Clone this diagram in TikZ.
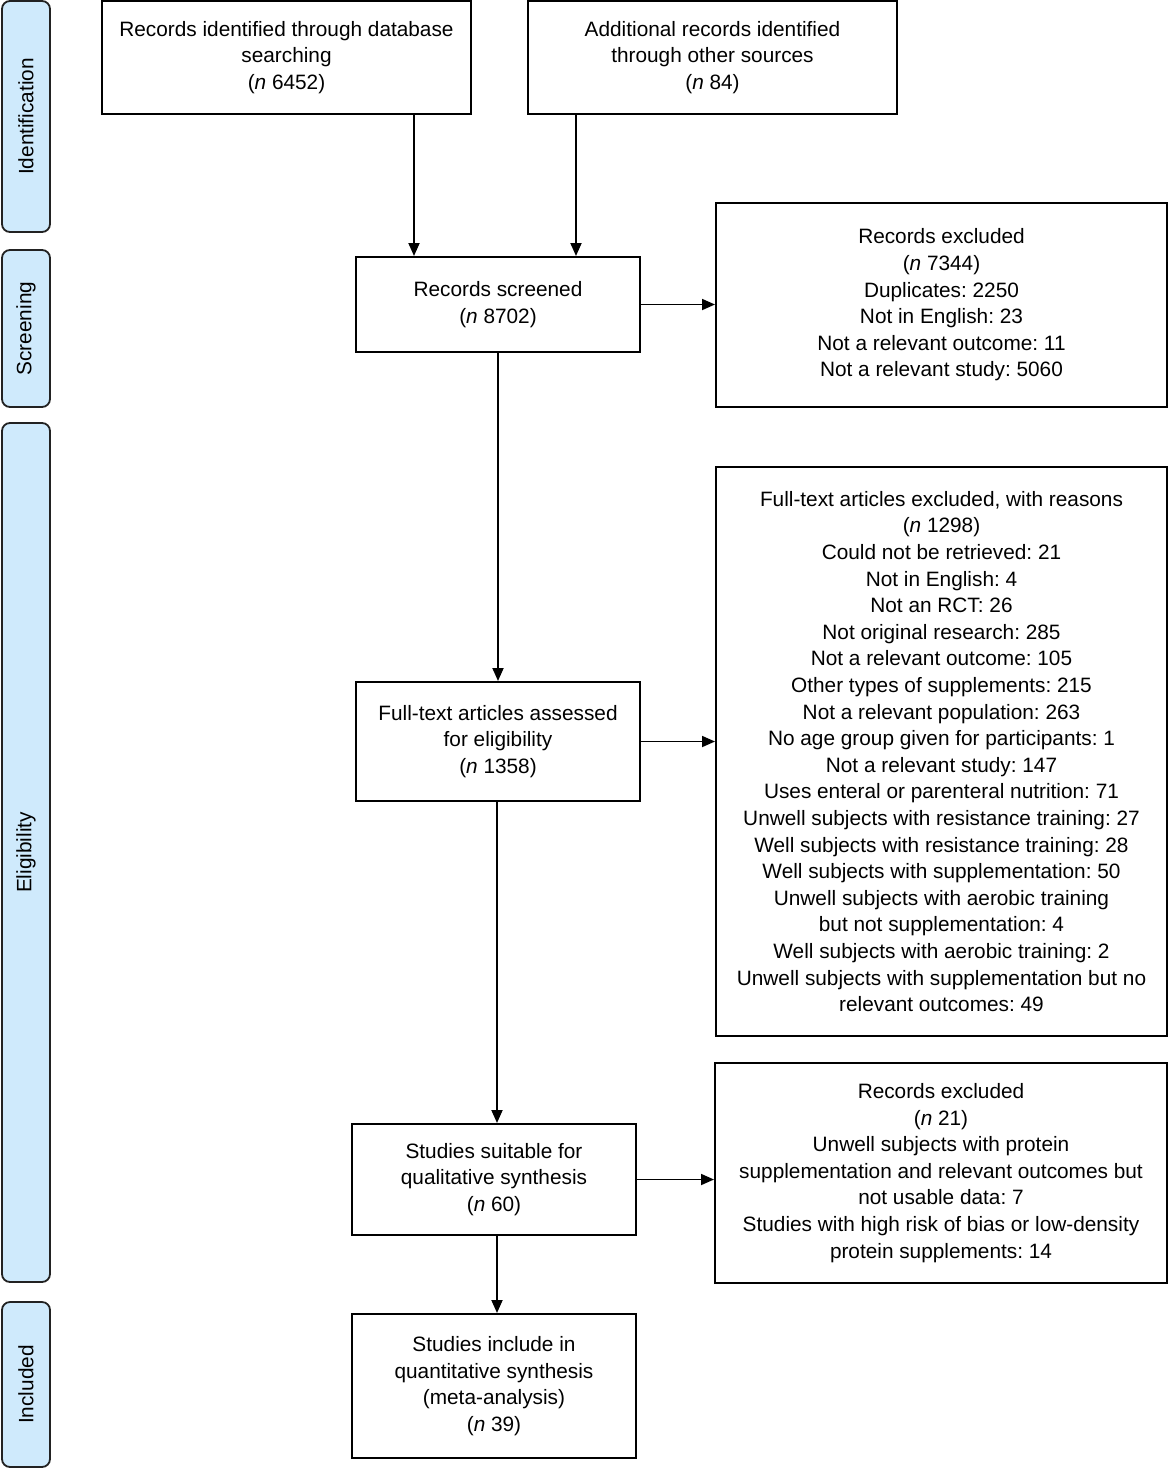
\documentclass[tikz,border=0pt]{standalone}
\usepackage{fontspec}
\setmainfont{Liberation Sans}
\usetikzlibrary{arrows.meta,calc}
\frenchspacing
\definecolor{stagefill}{HTML}{CFEAFC}
\definecolor{stageline}{HTML}{222222}
\tikzset{
  box/.style={draw, line width=1pt, align=center, inner sep=0pt,
    font=\fontsize{10.4}{13.3}\selectfont\frenchspacing},
  stage/.style={draw=stageline, fill=stagefill, line width=0.9pt, rounded corners=4pt,
    inner sep=0pt},
  stagetext/.style={rotate=90, font=\fontsize{10.4}{13.3}\selectfont},
  arr/.style={line width=0.9pt, -{Triangle[length=6.5pt,width=5.5pt]}},
}
\begin{document}
\begin{tikzpicture}[x=0.5pt,y=-0.5pt]
\useasboundingbox (0,0) rectangle (1168,1469);
% stage labels
\node[stage, minimum width=24pt, minimum height=115.5pt] (s1) at (26,116.5) {};
\node[stagetext] (s1t) at (s1.center) {Identification};
\node[stage, minimum width=24pt, minimum height=78.5pt] (s2) at (26,328.5) {};
\node[stagetext] (s2t) at (s2.center) {Screening};
\node[stage, minimum width=24pt, minimum height=429.5pt] (s3) at (26,852.5) {};
\node[stagetext] (s3t) at (s3.center) {Eligibility};
\node[stage, minimum width=24pt, minimum height=82.5pt] (s4) at (26,1384.5) {};
\node[stagetext] (s4t) at (s4.center) {Included};
% boxes
\node[box, minimum width=184.5pt, minimum height=56.5pt] (a) at (286.5,57.5)
  {Records identified through database\\searching\\(\textit{n} 6452)};
\node[box, minimum width=184.5pt, minimum height=56.5pt] (b) at (712.5,57.5)
  {Additional records identified\\through other sources\\(\textit{n} 84)};
\node[box, minimum width=142pt, minimum height=47.5pt] (scr) at (498,304.5)
  {Records screened\\(\textit{n} 8702)};
\node[box, minimum width=225.5pt, minimum height=102pt] (ex1) at (941.5,305)
  {Records excluded\\(\textit{n} 7344)\\Duplicates: 2250\\Not in English: 23\\Not a relevant outcome: 11\\Not a relevant study: 5060};
\node[box, minimum width=142pt, minimum height=59.5pt] (ft) at (498,741.5)
  {Full-text articles assessed\\for eligibility\\(\textit{n} 1358)};
\node[box, minimum width=225.5pt, minimum height=284.5pt] (ex2) at (941.5,751.5)
  {Full-text articles excluded, with reasons\\(\textit{n} 1298)\\Could not be retrieved: 21\\Not in English: 4\\Not an RCT: 26\\Not original research: 285\\Not a relevant outcome: 105\\Other types of supplements: 215\\Not a relevant population: 263\\No age group given for participants: 1\\Not a relevant study: 147\\Uses enteral or parenteral nutrition: 71\\Unwell subjects with resistance training: 27\\Well subjects with resistance training: 28\\Well subjects with supplementation: 50\\Unwell subjects with aerobic training\\but not supplementation: 4\\Well subjects with aerobic training: 2\\Unwell subjects with supplementation but no\\relevant outcomes: 49};
\node[box, minimum width=142pt, minimum height=55.5pt] (su) at (494,1179.5)
  {Studies suitable for\\qualitative synthesis\\(\textit{n} 60)};
\node[box, minimum width=226pt, minimum height=110pt] (ex3) at (941,1173)
  {Records excluded\\(\textit{n} 21)\\Unwell subjects with protein\\supplementation and relevant outcomes but\\not usable data: 7\\Studies with high risk of bias or low-density\\protein supplements: 14};
\node[box, minimum width=142pt, minimum height=72pt] (inc) at (494,1386)
  {Studies include in\\quantitative synthesis\\(meta-analysis)\\(\textit{n} 39)};
% connectors
\coordinate (xa) at (414,0);
\coordinate (xb) at (576,0);
\coordinate (xs) at (497,0);
\draw[arr] (a.south -| xa) -- (scr.north -| xa);
\draw[arr] (b.south -| xb) -- (scr.north -| xb);
\draw[arr] (scr.east) -- (ex1.west |- scr.east);
\draw[arr] (scr.south) -- (ft.north);
\draw[arr] (ft.east) -- (ex2.west |- ft.east);
\draw[arr] (ft.south -| xs) -- (su.north -| xs);
\draw[arr] (su.east) -- (ex3.west |- su.east);
\draw[arr] (su.south -| xs) -- (inc.north -| xs);
\end{tikzpicture}
\end{document}
